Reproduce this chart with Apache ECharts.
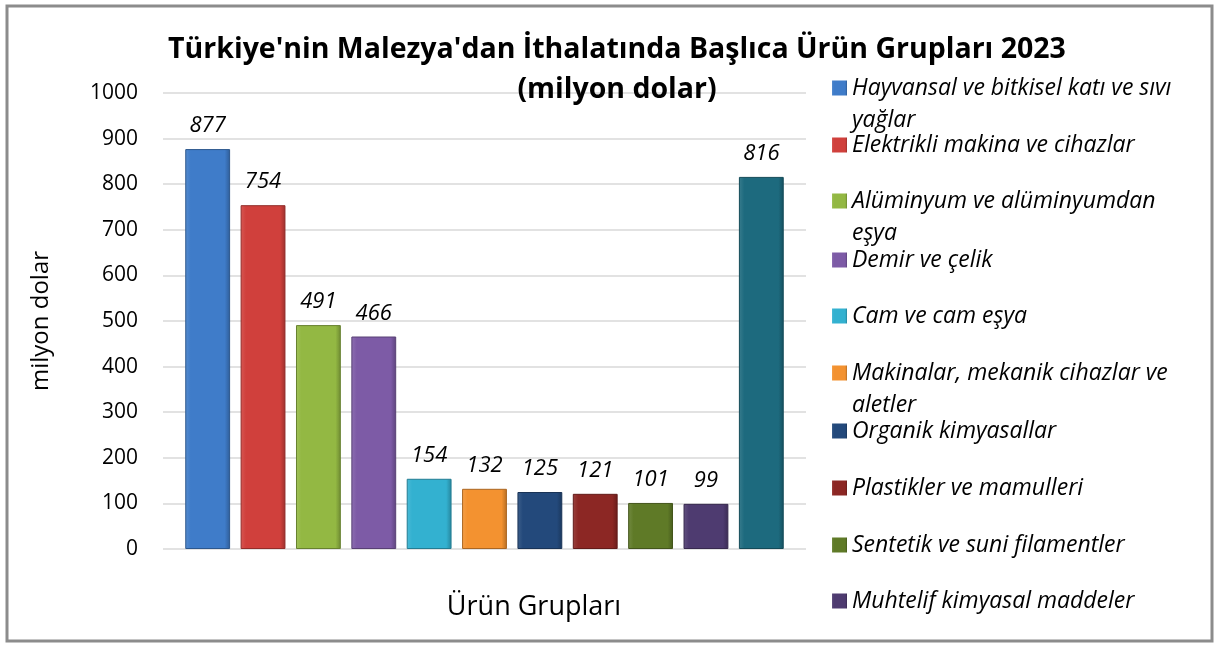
<!DOCTYPE html>
<html>
<head>
<meta charset="utf-8">
<script src="https://cdn.jsdelivr.net/npm/echarts@6/dist/echarts.min.js"></script>
<style>
html,body{margin:0;padding:0;background:#fff;}
#chart{width:1217px;height:648px;}
</style>
</head>
<body>
<div id="chart"></div>
<script>
// ---- data ----
const categories = [
  "Hayvansal ve bitkisel katı ve sıvı yağlar",
  "Elektrikli makina ve cihazlar",
  "Alüminyum ve alüminyumdan eşya",
  "Demir ve çelik",
  "Cam ve cam eşya",
  "Makinalar, mekanik cihazlar ve aletler",
  "Organik kimyasallar",
  "Plastikler ve mamulleri",
  "Sentetik ve suni filamentler",
  "Muhtelif kimyasal maddeler",
  "Diğer"
];
const values = [877, 754, 491, 466, 154, 132, 125, 121, 101, 99, 816];
const legendNames = categories.slice(0, 10);
const yMin = 0, yMax = 1000, yStep = 100;
const titleText = "Türkiye'nin Malezya'dan İthalatında Başlıca Ürün Grupları 2023\n(milyon dolar)";
const xName = "Ürün Grupları";
const yName = "milyon dolar";

// ---- layout / styles ----
// word at which a legend entry wraps onto a second line (as in the reference)
const wrapAt = ["yağlar", null, "eşya", null, null, "aletler", null, null, null, null];
const legendCenters = [85, 142, 198, 257, 313, 370, 428, 485, 542, 598];
const palette = ["#3f7cc9", "#d0403c", "#93b843", "#7d5ba6", "#33b1d0", "#f39230", "#23497b", "#8c2724", "#5f7a27", "#4e3b70", "#1d6a7e"];
const FONT = "Open Sans";

function shade(hex, f) {
  const n = parseInt(hex.slice(1), 16);
  let r = (n >> 16) & 255, g = (n >> 8) & 255, b = n & 255;
  const m = c => Math.max(0, Math.min(255, Math.round(f >= 0 ? c + (255 - c) * f : c * (1 + f))));
  return "rgb(" + m(r) + "," + m(g) + "," + m(b) + ")";
}
function grad(c) {
  return new echarts.graphic.LinearGradient(0, 0, 1, 0, [
    {offset: 0, color: shade(c, 0.12)},
    {offset: 0.12, color: c},
    {offset: 0.88, color: c},
    {offset: 1, color: shade(c, -0.25)}
  ]);
}
function wrapName(name, word) {
  if (!word) return name;
  const k = name.lastIndexOf(' ' + word);
  return k < 0 ? name : name.slice(0, k) + '\n' + name.slice(k + 1);
}

const series = categories.map((name, i) => ({
  type: 'bar',
  name: name,
  xAxisIndex: 1,
  yAxisIndex: 1,
  stack: 'all',
  barWidth: '81%',
  data: categories.map((c, j) => (j === i ? values[i] : '-')),
  itemStyle: {color: grad(palette[i]), borderColor: shade(palette[i], -0.3), borderWidth: 1},
  label: {
    show: true, position: 'top', distance: 12,
    fontFamily: FONT, fontStyle: 'italic', fontSize: 22, color: '#000'
  }
}));

// two-line entries use a tall icon box with the square at its top, so the square sits on the first line
const tallIcon = 'path://M0 0H15V15H0Z M0 47H0.01V47.01H0Z';
const legends = legendNames.map((n, i) => ({
  orient: 'vertical',
  left: 827,
  top: legendCenters[i] - 18,
  icon: wrapAt[i] ? tallIcon : 'rect',
  symbolKeepAspect: false,
  itemWidth: 15, itemHeight: wrapAt[i] ? 47 : 15, itemGap: 0,
  itemStyle: {borderWidth: 0},
  data: [n],
  formatter: name => wrapName(name, wrapAt[i]),
  textStyle: {
    fontFamily: FONT, fontStyle: 'italic', fontSize: 23, color: '#000', lineHeight: 32
  }
}));

const chart = echarts.init(document.getElementById('chart'), null, {renderer: 'canvas'});
chart.setOption({
  animation: false,
  backgroundColor: '#fff',
  title: {
    text: titleText,
    left: 612, top: 25, textAlign: 'center',
    textStyle: {fontFamily: FONT, fontWeight: 'bold', fontSize: 28.5, lineHeight: 40, color: '#000'}
  },
  legend: legends,
  grid: [
    {left: 163, right: 411, top: 93, bottom: 99},
    {left: 180, right: 428, top: 93, bottom: 99}
  ],
  xAxis: [
    {type: 'value', gridIndex: 0, min: 0, max: 1, show: true,
     axisLine: {show: false}, axisTick: {show: false}, axisLabel: {show: false}, splitLine: {show: false},
     name: xName, nameLocation: 'middle', nameGap: 45,
     nameTextStyle: {fontFamily: FONT, fontSize: 27, color: '#000', padding: [0, 0, 0, 99]}},
    {type: 'category', gridIndex: 1, data: categories, show: false}
  ],
  yAxis: [
    {type: 'value', gridIndex: 0, min: yMin, max: yMax, interval: yStep,
     axisLine: {show: false}, axisTick: {show: false},
     axisLabel: {fontFamily: FONT, fontSize: 21, color: '#000', margin: 25, formatter: v => String(v)},
     splitLine: {lineStyle: {color: '#d9d9d9', width: 1.5}},
     name: yName, nameLocation: 'middle', nameGap: 110, nameRotate: 90,
     nameTextStyle: {fontFamily: FONT, fontSize: 24, color: '#000'}},
    {type: 'value', gridIndex: 1, min: yMin, max: yMax, interval: yStep, show: false, splitLine: {show: false}}
  ],
  graphic: [{
    type: 'rect', silent: true, z: 100,
    shape: {x: 7, y: 6, width: 1205, height: 635},
    style: {fill: 'none', stroke: '#8c8c8c', lineWidth: 3}
  }],
  series: series
});
</script>
</body>
</html>
